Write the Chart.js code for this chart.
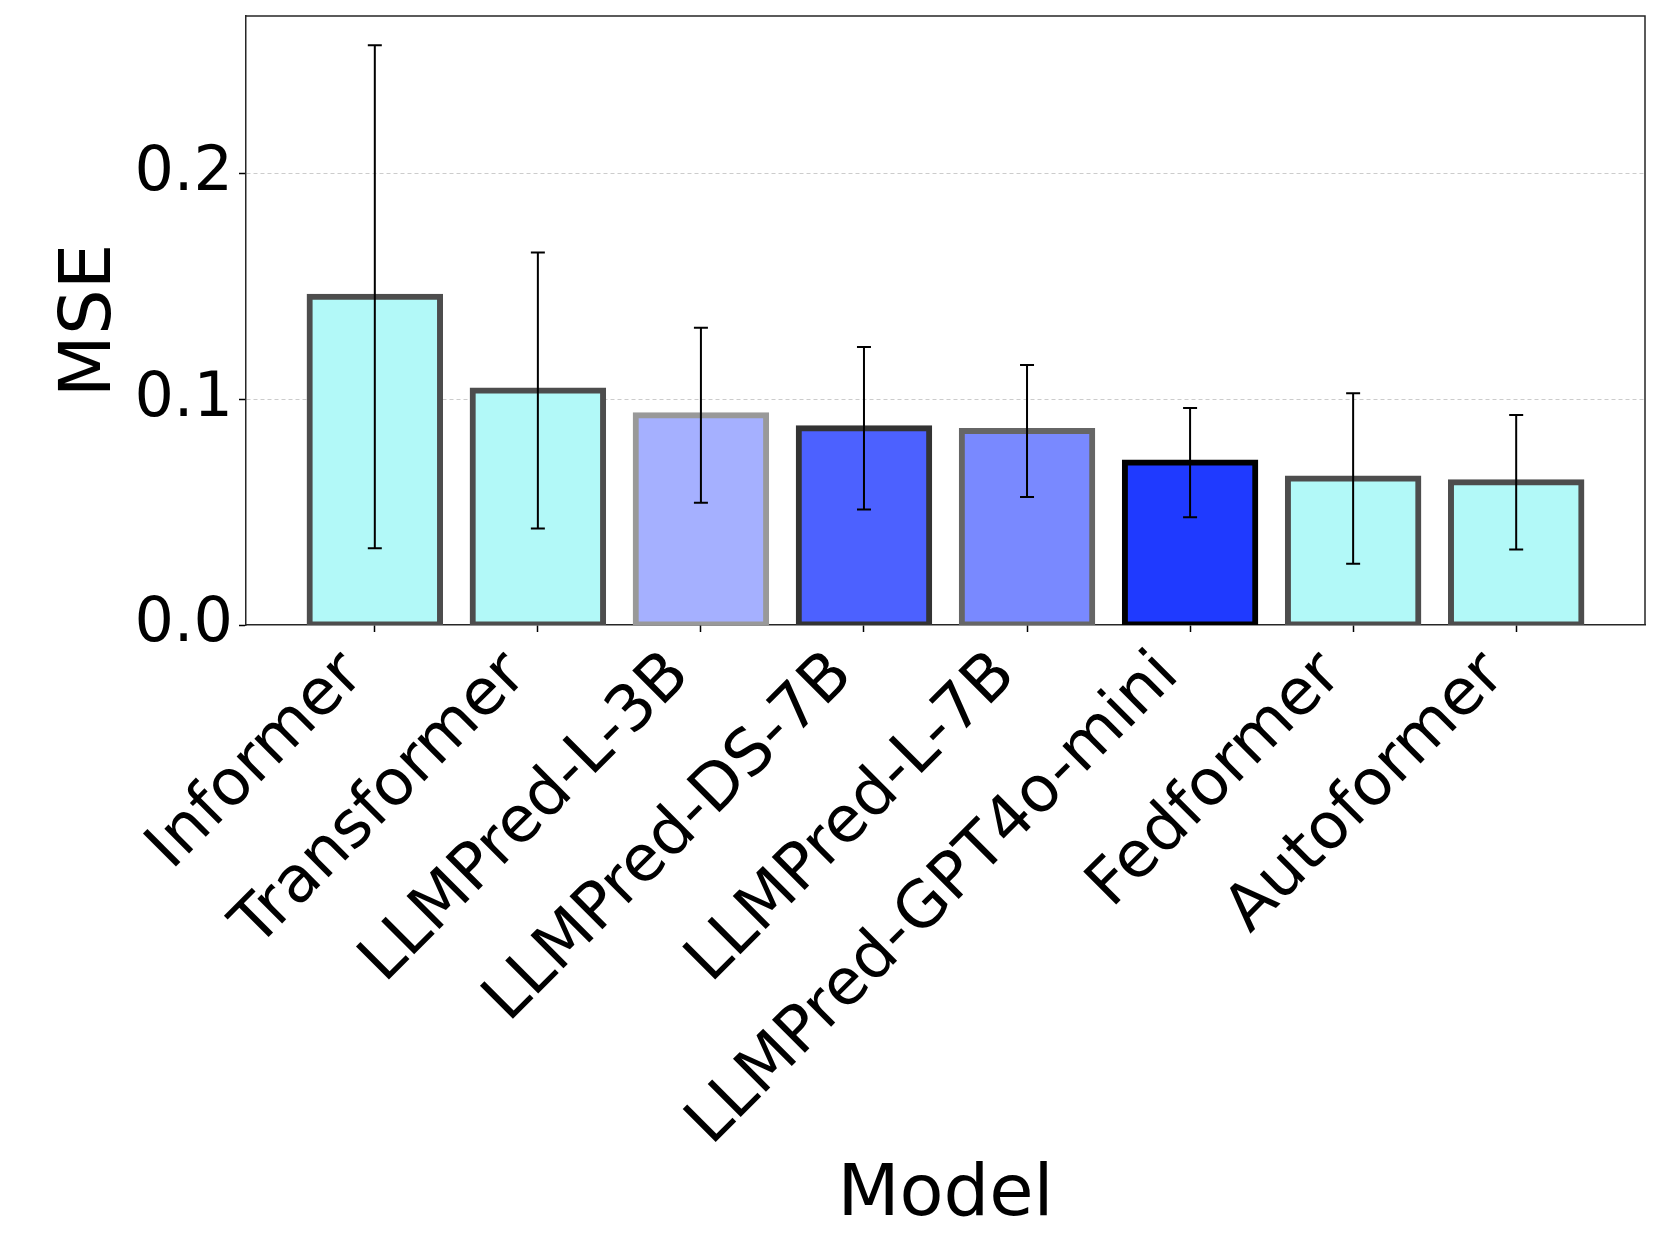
<!DOCTYPE html>
<html>
<head>
<meta charset="utf-8">
<script src="https://cdn.jsdelivr.net/npm/chart.js@4.4.0/dist/chart.umd.min.js"></script>
<style>
  html, body { margin: 0; padding: 0; background: #fff; }
  canvas { display: block; }
</style>
</head>
<body>
<canvas id="chart" width="1661" height="1246"></canvas>
<script>
// data
const models = ['Informer', 'Transformer', 'LLMPred-L-3B', 'LLMPred-DS-7B', 'LLMPred-L-7B', 'LLMPred-GPT4o-mini', 'Fedformer', 'Autoformer'];
const mse = [0.1455, 0.1040, 0.0930, 0.0872, 0.0860, 0.0720, 0.0650, 0.0633];
const mseErr = [0.1115, 0.0612, 0.0388, 0.0360, 0.0293, 0.0242, 0.0378, 0.0298];
const yTicks = [0.0, 0.1, 0.2];

const fillColors = ['#b2f9f8', '#b2f9f8', '#a5b0ff', '#4c61ff', '#7989ff', '#1f3aff', '#b2f9f8', '#b2f9f8'];
const edgeColors = ['#4d4d4d', '#4d4d4d', '#999999', '#333333', '#666666', '#000000', '#4d4d4d', '#4d4d4d'];

const FONT = 'DejaVu Sans';

// error bars on top of the bars
const errorBars = {
  id: 'errorBars',
  afterDatasetsDraw(chart) {
    const { ctx, scales: { x, y } } = chart;
    ctx.save();
    ctx.strokeStyle = '#000';
    ctx.lineWidth = 2;
    mse.forEach((v, i) => {
      const px = x.getPixelForValue(i);
      const top = y.getPixelForValue(v + mseErr[i]);
      const bot = y.getPixelForValue(v - mseErr[i]);
      ctx.beginPath();
      ctx.moveTo(px, top); ctx.lineTo(px, bot);
      ctx.moveTo(px - 7, top); ctx.lineTo(px + 7, top);
      ctx.moveTo(px - 7, bot); ctx.lineTo(px + 7, bot);
      ctx.stroke();
    });
    ctx.restore();
  }
};

// top and right spines
const frame = {
  id: 'frame',
  afterDraw(chart) {
    const { ctx, chartArea: a } = chart;
    ctx.save();
    ctx.strokeStyle = '#262626';
    ctx.lineWidth = 1.5;
    ctx.beginPath();
    ctx.moveTo(a.left, a.top); ctx.lineTo(a.right, a.top); ctx.lineTo(a.right, a.bottom);
    ctx.stroke();
    ctx.restore();
  }
};

new Chart(document.getElementById('chart'), {
  type: 'bar',
  data: {
    datasets: [{
      data: mse.map((v, i) => ({ x: i, y: v })),
      backgroundColor: fillColors,
      borderColor: edgeColors,
      borderWidth: 6,
      borderSkipped: false,
      inflateAmount: 3,   // edge centred on the bar outline, as in the original
      categoryPercentage: 1,
      barPercentage: 0.8
    }]
  },
  options: {
    responsive: false,
    animation: false,
    devicePixelRatio: 1,
    layout: { padding: { top: 16, right: 16, left: 0, bottom: 0 } },
    plugins: { legend: { display: false }, tooltip: { enabled: false } },
    scales: {
      x: {
        type: 'linear',
        offset: false,
        min: -0.79,
        max: 7.79,
        afterBuildTicks: s => { s.ticks = models.map((_, i) => ({ value: i })); },
        afterFit: s => { s.height = 1246 - 625; s.paddingLeft = 0; s.paddingRight = 0; },
        ticks: {
          autoSkip: false,
          minRotation: 45,
          maxRotation: 45,
          padding: 6,
          labelOffset: -21,
          color: '#000',
          font: { family: FONT, size: 64 },
          callback: v => models[Math.round(v)]
        },
        grid: { offset: false, drawOnChartArea: false, drawTicks: true, tickLength: 7, tickColor: '#000', tickWidth: 1.5 },
        border: { color: '#262626', width: 1.5 },
        title: {
          display: true,
          text: 'Model',
          color: '#000',
          font: { family: FONT, size: 72 },
          padding: { top: 0, bottom: 7 }
        }
      },
      y: {
        min: 0,
        max: 0.27,
        afterBuildTicks: s => { s.ticks = yTicks.map(v => ({ value: v })); },
        afterFit: s => { s.width = 246; s.paddingTop = 0; s.paddingBottom = 0; },
        ticks: {
          padding: 6,
          color: '#000',
          font: { family: FONT, size: 62 },
          callback: v => v.toFixed(1)
        },
        grid: {
          color: ctx => ctx.tick && ctx.tick.value === 0 ? 'rgba(0,0,0,0)' : '#cccccc',
          lineWidth: 1,
          tickLength: 7,
          tickColor: '#000',
          tickWidth: 1.5,
          tickBorderDash: [],
          z: -1
        },
        border: { color: '#262626', width: 1.5, dash: [4, 3] },
        title: {
          display: true,
          text: 'MSE',
          color: '#000',
          font: { family: FONT, size: 72 },
          padding: { top: 48, bottom: 0 }
        }
      }
    }
  },
  plugins: [errorBars, frame]
});
</script>
</body>
</html>
